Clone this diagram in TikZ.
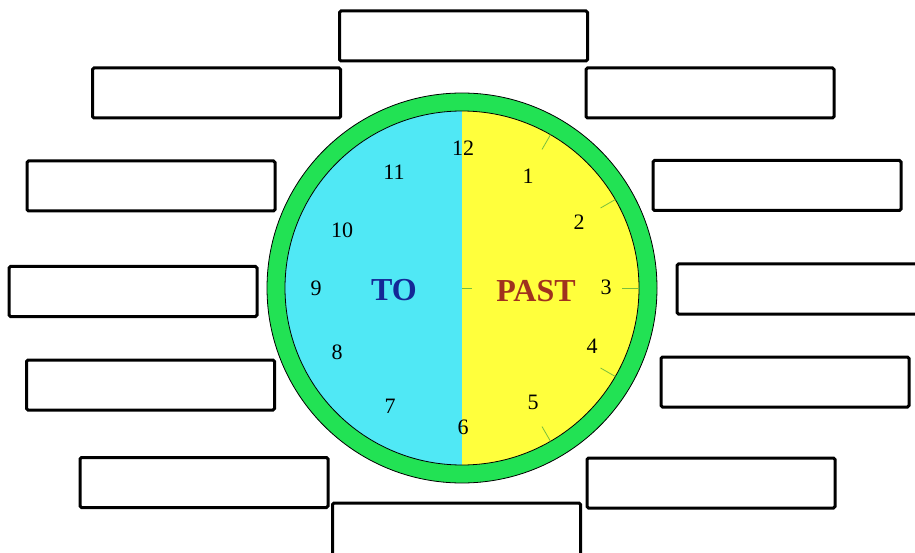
\documentclass[tikz,border=0pt]{standalone}
\usepackage{fontspec}
\setmainfont{Liberation Serif}
\usetikzlibrary{calc}
\definecolor{facecyan}{RGB}{80,232,245}
\definecolor{faceyellow}{RGB}{255,255,60}
\definecolor{ringgreen}{RGB}{34,226,84}
\definecolor{tickgreen}{RGB}{120,190,60}
\definecolor{todark}{RGB}{20,40,150}
\definecolor{pastred}{RGB}{160,50,30}
\begin{document}
\begin{tikzpicture}[x=1pt,y=-1pt,
  answerbox/.style={draw=black,line width=3pt,rounded corners=1.5pt,fill=white,inner sep=0pt,
    minimum width=248pt,minimum height=50pt},
  numlabel/.style={font=\fontsize{22}{22}\selectfont,text=black,inner sep=0pt},
  halflabel/.style={font=\bfseries\fontsize{32}{32}\selectfont,inner sep=0pt},
  tickline/.style={draw=tickgreen,line width=0.8pt}]
\useasboundingbox (0,0) rectangle (915,553);
% answer boxes
\node[answerbox] (btop) at (463.5,36) {};
\node[answerbox] (b2l) at (216.5,93) {};
\node[answerbox] (b2r) at (710,93) {};
\node[answerbox] (b3l) at (151,186) {};
\node[answerbox] (b3r) at (777,185.5) {};
\node[answerbox] (b4l) at (133,291.5) {};
\node[answerbox] (b4r) at (801,289) {};
\node[answerbox] (b5l) at (150.5,385) {};
\node[answerbox] (b5r) at (785,382) {};
\node[answerbox] (b6l) at (204,482.5) {};
\node[answerbox] (b6r) at (711,483) {};
\node[answerbox,minimum height=56pt] (bbot) at (456.5,531) {};
% clock
\coordinate (c) at (462,288);
\fill[ringgreen,draw=black,line width=0.8pt] (c) circle (195);
\begin{scope}
  \clip (c) circle (177);
  \fill[facecyan] (c) ++(-200,-200) rectangle ++(200,400);
  \fill[faceyellow] (c) ++(0,-200) rectangle ++(200,400);
\end{scope}
\draw[black,line width=0.8pt] (c) circle (177);
% ticks (angles measured clockwise from 12 with y down)
\foreach \a in {30,60,90,120,150}{
  \draw[tickline] ($(c)+(\a-90:160)$) -- ($(c)+(\a-90:177)$);
}
\draw[tickline] (c) -- ++(10,0);
% numbers
\node[numlabel] (n12) at (463,148) {12};
\node[numlabel] (n1) at (528,176) {1};
\node[numlabel] (n2) at (579,222) {2};
\node[numlabel] (n3) at (606,287) {3};
\node[numlabel] (n4) at (592,346) {4};
\node[numlabel] (n5) at (533,402) {5};
\node[numlabel] (n6) at (463,427) {6};
\node[numlabel] (n7) at (390,406) {7};
\node[numlabel] (n8) at (337,352) {8};
\node[numlabel] (n9) at (316,288) {9};
\node[numlabel] (n10) at (342,230) {10};
\node[numlabel] (n11) at (394,172) {11};
\node[halflabel,text=todark] (to) at (394,290) {TO};
\node[halflabel,text=pastred] (past) at (536,291) {PAST};
\end{tikzpicture}
\end{document}
